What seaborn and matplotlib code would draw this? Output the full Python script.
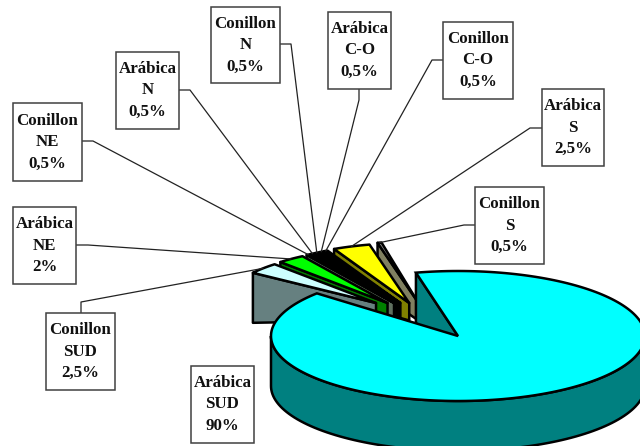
import numpy as np
import seaborn as sns
import matplotlib.pyplot as plt
from matplotlib.patches import Polygon, Rectangle

# slices, counter clockwise starting after the big one
names = ["Conillon\nS", "Arábica\nS", "Conillon\nC-O", "Arábica\nC-O", "Conillon\nN",
         "Arábica\nN", "Conillon\nNE", "Arábica\nNE", "Conillon\nSUD"]
shares = [0.5, 2.5, 0.5, 0.5, 0.5, 0.5, 0.5, 2.0, 2.5]
share_labels = ["0,5%", "2,5%", "0,5%", "0,5%", "0,5%", "0,5%", "0,5%", "2%", "2,5%"]
main_name = "Arábica\nSUD"
main_share = 90.0
main_label = "90%"

top_colors = ["#969696", "#FFFF00", "#333300", "#FF9900", "#000000", "#000000", "#C0DCC0", "#00FF00", "#CCFFFF"]
side_colors = ["#808060", "#808000", "#1a1a00", "#804c00", "#000000", "#000000", "#607060", "#008000", "#668080"]

# box corners and the elbow of each leader, in picture pixels
boxes = [(475, 187, 544, 264), (542, 89, 604, 166), (443, 22, 513, 99), (328, 12, 391, 89), (211, 7, 280, 83),
         (116, 52, 179, 129), (13, 103, 82, 181), (13, 207, 76, 284), (46, 313, 115, 390)]
stubs = [((475, 225), (464, 225)), ((542, 128), (530, 128)), ((443, 60), (432, 60)), ((359, 89), (359, 100)),
         ((280, 44), (291, 44)), ((179, 90), (190, 90)), ((82, 141), (93, 141)), ((76, 245), (88, 245)),
         ((81, 313), (81, 302))]
main_box = (191, 366, 254, 443)

cx, cy = 458, 336
rx, ry = 187, 65
depth = 50
start = 103.0


def ell(x0, y0, ax_x, ax_y, deg):
    t = np.radians(deg)
    return np.column_stack([x0 + ax_x * np.cos(t), y0 - ax_y * np.sin(t)])


sns.set_theme(style="white")
plt.rcParams["font.family"] = ["Liberation Serif", "DejaVu Serif"]
fig = plt.figure(figsize=(6.4, 4.46), dpi=100)
ax = fig.add_axes([0, 0, 1, 1])
ax.set_xlim(0, 640)
ax.set_ylim(446, 0)
ax.axis("off")
sns.despine(ax=ax, left=True, bottom=True)

# small slices, exploded, right one first so the next covers its wall
t0 = start - 1
targets = []
for i, s in enumerate(shares):
    # thin ones look squeezed in the original 3d view
    t1 = t0 + s * (2.6 if s < 1 else 5.0)
    mid = (t0 + t1) / 2
    ax0 = cx - 22 + 80 * np.cos(np.radians(mid))
    ay0 = cy - 33
    k = 0.95 - (mid - 103) / 37 * 0.15
    arc = ell(ax0, ay0, rx * k, ry * k, np.linspace(t0, t1, 8))
    apex = np.array([[ax0, ay0]])
    left = arc[-1]
    wall = np.array([apex[0], left, left + [0, depth], apex[0] + [0, depth * 0.35]])
    ax.add_patch(Polygon(wall, closed=True, fc=side_colors[i], ec="black", lw=1.8, joinstyle="round"))
    ax.add_patch(Polygon(np.vstack([apex, arc]), closed=True, fc=top_colors[i], ec="black", lw=1.8, joinstyle="round"))
    targets.append(ell(ax0, ay0, rx * k, ry * k, mid)[0])
    t0 = t1

# big slice: radial wall, outer wall, then top
sweep = main_share * 3.6
theta = np.linspace(start, start - sweep, 200)
rim = ell(cx, cy, rx, ry, theta)
wall = np.array([rim[0], rim[0] + [0, depth], [cx, cy + depth], [cx, cy]])
ax.add_patch(Polygon(wall, closed=True, fc="#008080", ec="black", lw=1.8))
front = ell(cx, cy, rx, ry, np.linspace(180, 360, 100))
ax.add_patch(Polygon(np.vstack([front, front[::-1] + [0, depth]]), closed=True, fc="#008080", ec="black", lw=1.8))
ax.add_patch(Polygon(np.vstack([[cx, cy], rim]), closed=True, fc="#00FFFF", ec="black", lw=1.8))


def label(box, text):
    x0, y0, x1, y1 = box
    ax.add_patch(Rectangle((x0, y0), x1 - x0, y1 - y0, fc="white", ec="#404040", lw=1.1, zorder=5))
    ax.text((x0 + x1) / 2, (y0 + y1) / 2, text, ha="center", va="center", fontsize=12.2, fontweight="bold",
            linespacing=1.45, color="#111111", zorder=6)


for i, name in enumerate(names):
    a, b = stubs[i]
    ax.plot([a[0], b[0], targets[i][0]], [a[1], b[1], targets[i][1]], color="#222222", lw=0.9, zorder=4)
    label(boxes[i], name + "\n" + share_labels[i])
label(main_box, main_name + "\n" + main_label)

fig.savefig("out.png", dpi=100)
